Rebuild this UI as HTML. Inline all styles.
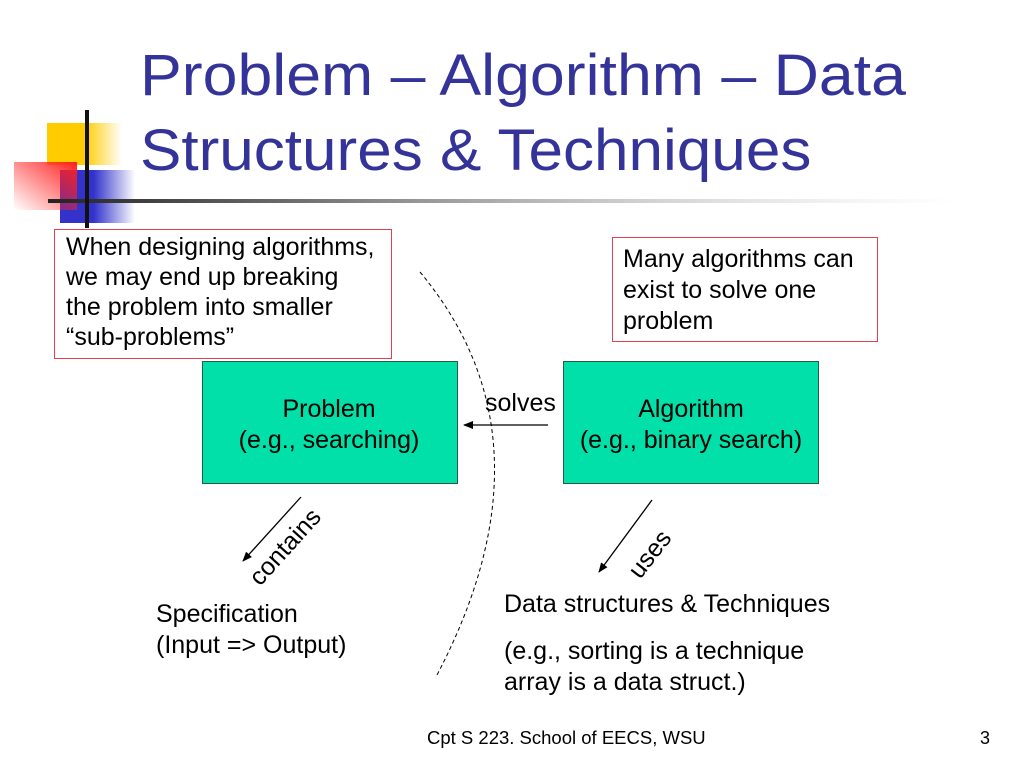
<!DOCTYPE html>
<html><head><meta charset="utf-8"><style>
html,body{margin:0;padding:0;background:#fff;}
svg{display:block;}
text{font-family:"Liberation Sans",sans-serif;}
</style></head><body>
<svg width="1024" height="768" viewBox="0 0 1024 768" xmlns="http://www.w3.org/2000/svg">
<defs>
<linearGradient id="gy" x1="0" x2="1"><stop offset="0" stop-color="#ffcc00"/><stop offset="0.5" stop-color="#ffcc00"/><stop offset="1" stop-color="#ffcc00" stop-opacity="0"/></linearGradient>
<linearGradient id="gb" x1="0" x2="1"><stop offset="0" stop-color="#3333cc"/><stop offset="0.45" stop-color="#3333cc"/><stop offset="1" stop-color="#3333cc" stop-opacity="0"/></linearGradient>
<linearGradient id="gr" x1="1" y1="0" x2="0" y2="1"><stop offset="0" stop-color="#ff2020"/><stop offset="1" stop-color="#ff2020" stop-opacity="0"/></linearGradient>
<linearGradient id="gl" x1="0" x2="1"><stop offset="0" stop-color="#222"/><stop offset="0.3" stop-color="#777"/><stop offset="1" stop-color="#ccc" stop-opacity="0"/></linearGradient>
<marker id="ah" markerWidth="10" markerHeight="8" refX="9" refY="4" orient="auto" markerUnits="userSpaceOnUse"><path d="M0,0 L10,4 L0,8 z" fill="#000"/></marker>
</defs>
<rect x="47" y="123" width="75" height="42" fill="url(#gy)"/>
<rect x="60" y="170" width="75" height="53" fill="url(#gb)"/>
<rect x="14" y="162" width="63" height="48" fill="url(#gr)"/>
<rect x="48" y="199" width="912" height="4" fill="url(#gl)"/>
<rect x="85" y="110" width="4" height="118" fill="#111"/>
<text transform="translate(140,95) scale(1.08,1)" font-size="58" fill="#333399">Problem – Algorithm – Data</text>
<text transform="translate(140,170) scale(1.07,1)" font-size="58" fill="#333399">Structures &amp; Techniques</text>
<rect x="54.5" y="229.5" width="337" height="129" fill="#fff" stroke="#e04050" stroke-width="1"/>
<g font-size="25" fill="#000">
<text x="66" y="255">When designing algorithms,</text>
<text x="66" y="285">we may end up breaking</text>
<text x="66" y="315">the problem into smaller</text>
<text x="66" y="345">“sub-problems”</text>
</g>
<rect x="612.5" y="237.5" width="265" height="104" fill="#fff" stroke="#e04050" stroke-width="1"/>
<g font-size="25" fill="#000">
<text x="623" y="267">Many algorithms can</text>
<text x="623" y="298">exist to solve one</text>
<text x="623" y="329">problem</text>
</g>
<rect x="202.5" y="361.5" width="255" height="122" fill="#00e0a8" stroke="#2a5a4a" stroke-width="1"/>
<rect x="563.5" y="361.5" width="255" height="122" fill="#00e0a8" stroke="#2a5a4a" stroke-width="1"/>
<g font-size="25" fill="#000" text-anchor="middle">
<text x="329" y="417">Problem</text>
<text x="329" y="448">(e.g., searching)</text>
<text x="691" y="417">Algorithm</text>
<text x="691" y="448">(e.g., binary search)</text>
</g>
<path d="M420,272 Q560,440 437,675" fill="none" stroke="#000" stroke-width="1" stroke-dasharray="4,3"/>
<line x1="548" y1="425" x2="464" y2="425" stroke="#000" stroke-width="1.3" marker-end="url(#ah)"/>
<text x="485" y="411" font-size="25">solves</text>
<line x1="301" y1="497" x2="243" y2="561" stroke="#000" stroke-width="1.3" marker-end="url(#ah)"/>
<text transform="translate(260,587) rotate(-48)" font-size="25">contains</text>
<line x1="652" y1="500" x2="599" y2="572" stroke="#000" stroke-width="1.3" marker-end="url(#ah)"/>
<text transform="translate(640,580) rotate(-52)" font-size="25">uses</text>
<g font-size="25" fill="#000">
<text x="156" y="622">Specification</text>
<text x="156" y="653">(Input =&gt; Output)</text>
<text x="504" y="612">Data structures &amp; Techniques</text>
<text x="504" y="659">(e.g., sorting is a technique</text>
<text x="504" y="690">array is a data struct.)</text>
</g>
<text x="427" y="744" font-size="18.5">Cpt S 223. School of EECS, WSU</text>
<text x="980" y="744" font-size="18">3</text>
</svg>
</body></html>
